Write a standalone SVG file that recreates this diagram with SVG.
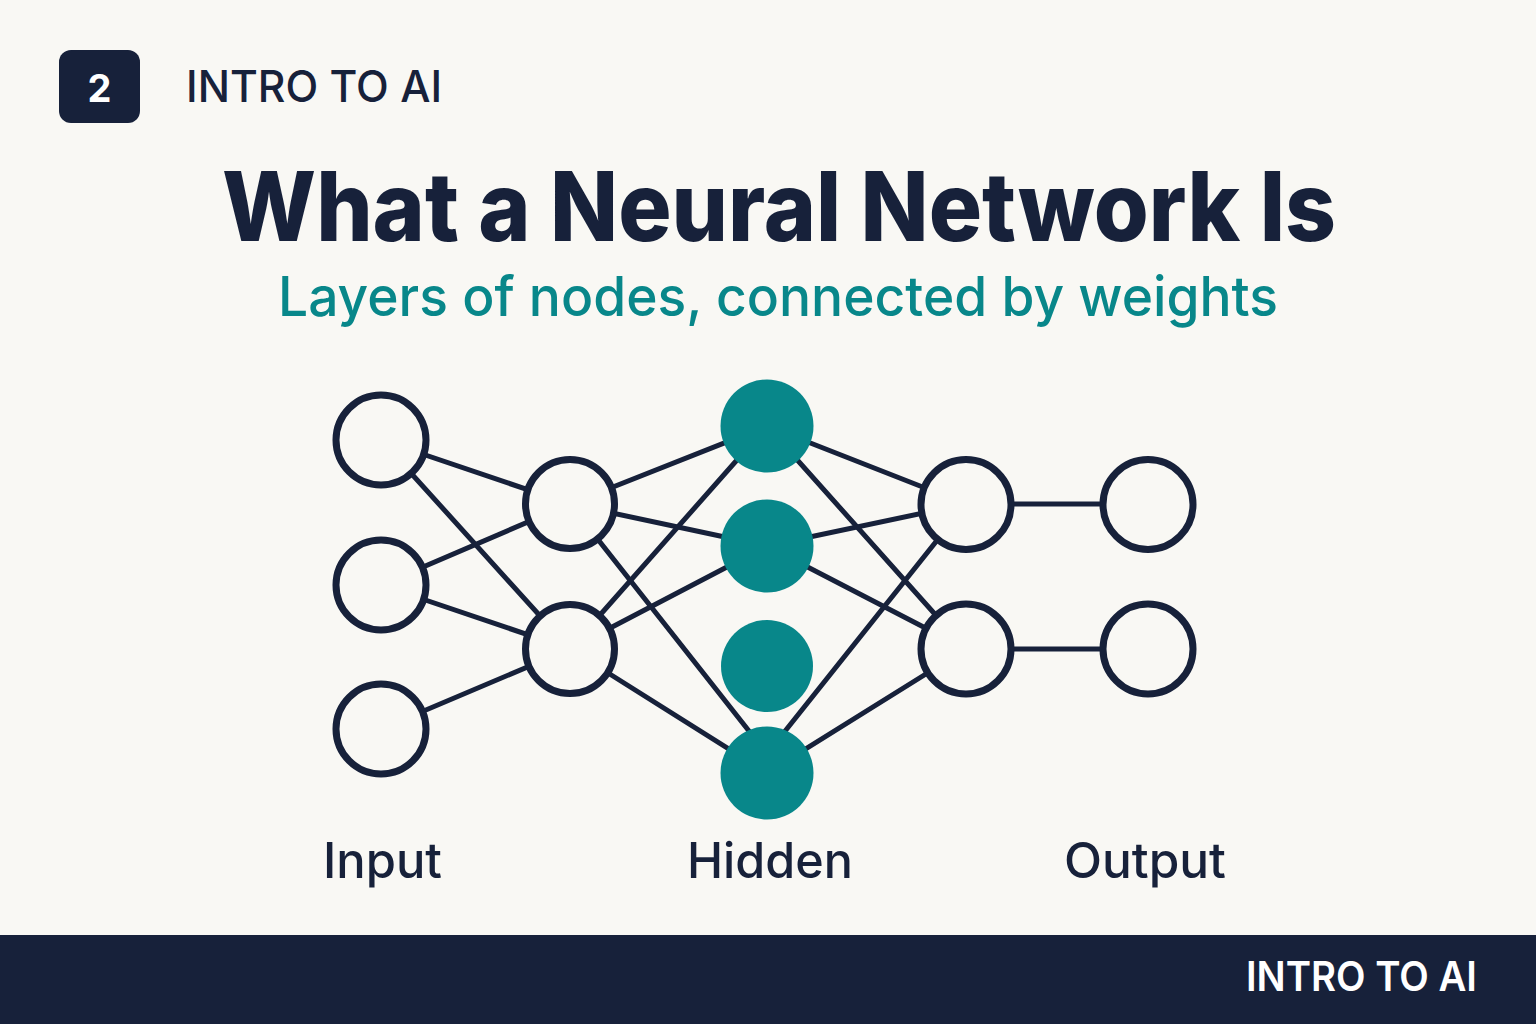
<svg xmlns="http://www.w3.org/2000/svg" width="1536" height="1024" viewBox="0 0 1536 1024">
<style>
.bg{fill:#F9F8F4}
.navy{fill:#17213A}
.edge{stroke:#17213A;stroke-width:5;stroke-linecap:round}
.open{fill:#F9F8F4;stroke:#17213A;stroke-width:7}
.hid{fill:#08878A}
.t{font-family:Inter,"Liberation Sans",Arial,sans-serif}
</style>
<rect class="bg" x="0" y="0" width="1536" height="1024"/>
<g id="header">
<rect class="navy" x="59" y="50" width="81" height="73" rx="12"/>
<text class="t" x="99.5" y="102" font-size="38" font-weight="700" fill="#FFFFFF" text-anchor="middle">2</text>
<text class="t" x="186" y="102" font-size="44" font-weight="500" fill="#17213A" textLength="256" lengthAdjust="spacingAndGlyphs">INTRO TO AI</text>
</g>
<g id="title">
<text class="t" x="779" y="241" font-size="96" font-weight="800" fill="#17213A" text-anchor="middle" textLength="1114" lengthAdjust="spacingAndGlyphs">What a Neural Network Is</text>
<text class="t" x="778" y="316" font-size="55" font-weight="500" fill="#08878A" text-anchor="middle" textLength="1000" lengthAdjust="spacingAndGlyphs">Layers of nodes, connected by weights</text>
</g>
<g id="connectors">
<line class="edge" x1="381" y1="440" x2="570" y2="504"/>
<line class="edge" x1="381" y1="440" x2="570" y2="649"/>
<line class="edge" x1="381" y1="585" x2="570" y2="504"/>
<line class="edge" x1="381" y1="585" x2="570" y2="649"/>
<line class="edge" x1="381" y1="729" x2="570" y2="649"/>
<line class="edge" x1="570" y1="504" x2="767" y2="426"/>
<line class="edge" x1="570" y1="504" x2="767" y2="546"/>
<line class="edge" x1="570" y1="504" x2="760" y2="745"/>
<line class="edge" x1="570" y1="649" x2="767" y2="426"/>
<line class="edge" x1="570" y1="649" x2="767" y2="546"/>
<line class="edge" x1="570" y1="649" x2="767" y2="773"/>
<line class="edge" x1="767" y1="426" x2="966" y2="504"/>
<line class="edge" x1="767" y1="426" x2="966" y2="649"/>
<line class="edge" x1="767" y1="546" x2="966" y2="504"/>
<line class="edge" x1="767" y1="546" x2="966" y2="649"/>
<line class="edge" x1="774" y1="745" x2="966" y2="504"/>
<line class="edge" x1="767" y1="773" x2="966" y2="649"/>
<line class="edge" x1="966" y1="504" x2="1148" y2="504"/>
<line class="edge" x1="966" y1="649" x2="1148" y2="649"/>
</g>
<g id="input-1"><circle class="open" cx="381" cy="440" r="45"/></g>
<g id="input-2"><circle class="open" cx="381" cy="585" r="45"/></g>
<g id="input-3"><circle class="open" cx="381" cy="729" r="45"/></g>
<g id="layer2-1"><circle class="open" cx="570" cy="504" r="44.5"/></g>
<g id="layer2-2"><circle class="open" cx="570" cy="649" r="44.5"/></g>
<g id="hidden-1"><circle class="hid" cx="767" cy="426" r="46.5"/></g>
<g id="hidden-2"><circle class="hid" cx="767" cy="546" r="46.5"/></g>
<g id="hidden-3"><circle class="hid" cx="767" cy="666" r="46"/></g>
<g id="hidden-4"><circle class="hid" cx="767" cy="773" r="46.5"/></g>
<g id="layer4-1"><circle class="open" cx="966" cy="504.5" r="45"/></g>
<g id="layer4-2"><circle class="open" cx="966" cy="649" r="45"/></g>
<g id="output-1"><circle class="open" cx="1148" cy="504.5" r="45"/></g>
<g id="output-2"><circle class="open" cx="1148" cy="649" r="45"/></g>
<g id="labels">
<text class="t" x="382.5" y="878" font-size="49" font-weight="500" fill="#17213A" text-anchor="middle" textLength="119" lengthAdjust="spacingAndGlyphs">Input</text>
<text class="t" x="770" y="878" font-size="49" font-weight="500" fill="#17213A" text-anchor="middle" textLength="166" lengthAdjust="spacingAndGlyphs">Hidden</text>
<text class="t" x="1145" y="878" font-size="49" font-weight="500" fill="#17213A" text-anchor="middle" textLength="162" lengthAdjust="spacingAndGlyphs">Output</text>
</g>
<g id="footer">
<rect class="navy" x="0" y="935" width="1536" height="89"/>
<text class="t" x="1246" y="991" font-size="41" font-weight="600" fill="#FFFFFF" textLength="231" lengthAdjust="spacingAndGlyphs">INTRO TO AI</text>
</g>
</svg>
